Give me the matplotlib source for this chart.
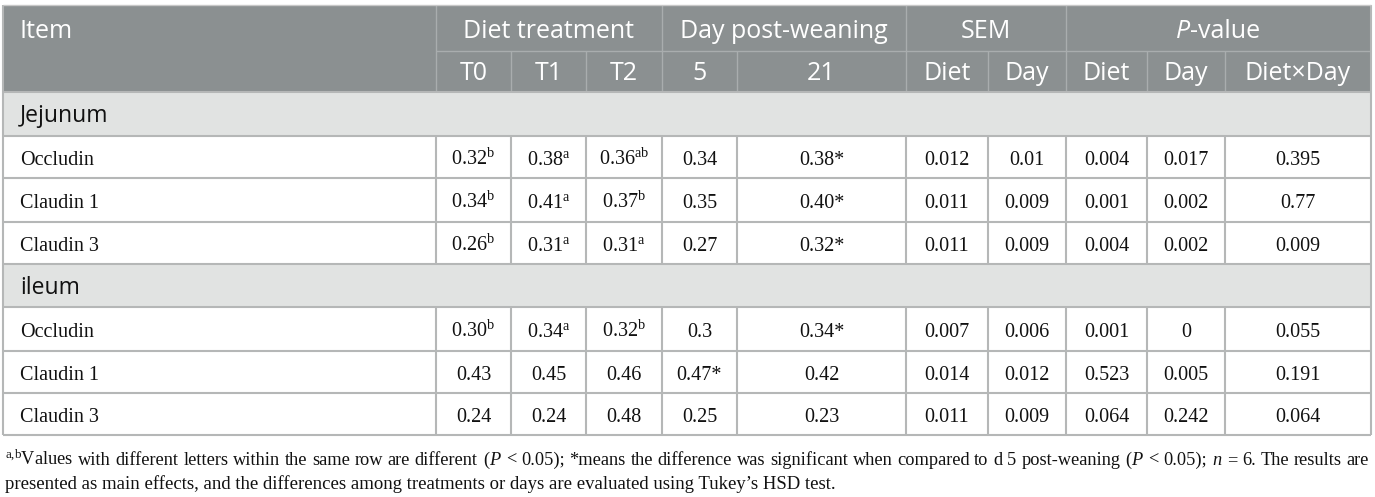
import matplotlib
matplotlib.use('Agg')
import matplotlib.pyplot as plt
from matplotlib.patches import Rectangle

plt.rcParams['mathtext.fontset'] = 'custom'
plt.rcParams['mathtext.rm'] = 'Liberation Serif'
plt.rcParams['mathtext.it'] = 'Liberation Serif:italic'
plt.rcParams['mathtext.bf'] = 'Liberation Serif:bold'

# ---- table content ----
group_headers = ['Diet treatment', 'Day post-weaning', 'SEM']
sub_headers = ['T0', 'T1', 'T2', '5', '21', 'Diet', 'Day', 'Diet', 'Day', 'Diet\u00d7Day']
sections = ['Jejunum', 'ileum']
items = ['Occludin', 'Claudin 1', 'Claudin 3']

jejunum_values = [
    ['0.32', '0.38', '0.36', '0.34', '0.38*', '0.012', '0.01', '0.004', '0.017', '0.395'],
    ['0.34', '0.41', '0.37', '0.35', '0.40*', '0.011', '0.009', '0.001', '0.002', '0.77'],
    ['0.26', '0.31', '0.31', '0.27', '0.32*', '0.011', '0.009', '0.004', '0.002', '0.009'],
]
jejunum_letters = [
    ['b', 'a', 'ab'],
    ['b', 'a', 'b'],
    ['b', 'a', 'a'],
]
ileum_values = [
    ['0.30', '0.34', '0.32', '0.3', '0.34*', '0.007', '0.006', '0.001', '0', '0.055'],
    ['0.43', '0.45', '0.46', '0.47*', '0.42', '0.014', '0.012', '0.523', '0.005', '0.191'],
    ['0.24', '0.24', '0.48', '0.25', '0.23', '0.011', '0.009', '0.064', '0.242', '0.064'],
]
ileum_letters = [
    ['b', 'a', 'b'],
    ['', '', ''],
    ['', '', ''],
]

footnote_1 = (r'$^{\mathrm{a{,}b}}$Values with different letters within the same row are different '
              r'($\mathit{P}$ < 0.05); *means the difference was significant when compared to d 5 '
              r'post-weaning ($\mathit{P}$ < 0.05); $\mathit{n}$ = 6. The results are')
footnote_2 = ("presented as main effects, and the differences among treatments or days are "
              "evaluated using Tukey\u2019s HSD test.")

# ---- layout (pixels) ----
W, H = 1375, 497
col_edges = [3, 436, 511, 586, 662, 737, 906, 988, 1066, 1147, 1225, 1371]
group_spans = [(1, 4), (4, 6), (6, 8), (8, 11)]
head_top, head_mid, head_bot = 5, 51, 92
row_edges = [92, 136, 178, 222, 264, 307, 351, 393, 435]

header_bg = '#8b9091'
header_line = '#a9adae'
band_bg = '#e1e3e2'
grid = '#b5b7b7'
ink = '#111111'

sans = 'Open Sans'
serif = 'Liberation Serif'

fig = plt.figure(figsize=(W / 100, H / 100), dpi=100)
ax = fig.add_axes([0, 0, 1, 1])
ax.set_xlim(0, W)
ax.set_ylim(H, 0)
ax.axis('off')
renderer = fig.canvas.get_renderer()

left, right = col_edges[0], col_edges[-1]

# header block
ax.add_patch(Rectangle((left, head_top), right - left, head_bot - head_top,
                       facecolor=header_bg, edgecolor='none'))
ax.hlines(head_mid, col_edges[1], right, color=header_line, lw=1)
for i, x in enumerate(col_edges[1:-1], start=1):
    top = head_top if i in (1, 4, 6, 8) else head_mid
    ax.vlines(x, top, head_bot, color=header_line, lw=1)

ax.text(20, 38, 'Item', fontsize=18, family=sans, color='white', va='baseline')
for (a, b), label in zip(group_spans[:3], group_headers):
    ax.text((col_edges[a] + col_edges[b]) / 2, 38, label, fontsize=18, family=sans,
            color='white', va='baseline', ha='center')

# "P-value" with italic P
a, b = group_spans[3]
cx = (col_edges[a] + col_edges[b]) / 2
t1 = ax.text(0, 38, 'P', fontsize=18, family=sans, style='italic', color='white', va='baseline')
t2 = ax.text(0, 38, '-value', fontsize=18, family=sans, color='white', va='baseline')
w1 = t1.get_window_extent(renderer).width
w2 = t2.get_window_extent(renderer).width
t1.set_x(cx - (w1 + w2) / 2)
t2.set_x(cx - (w1 + w2) / 2 + w1)

for i, label in enumerate(sub_headers):
    ax.text((col_edges[i + 1] + col_edges[i + 2]) / 2, 80, label, fontsize=18, family=sans,
            color='white', va='baseline', ha='center')


# body
def cell_text(val, letter):
    if letter:
        return val + r'$^{\mathrm{' + letter + '}}$'
    return val


blocks = [(jejunum_values, jejunum_letters), (ileum_values, ileum_letters)]
for s, (name, (values, letters)) in enumerate(zip(sections, blocks)):
    band_top = row_edges[s * 4]
    band_bot = row_edges[s * 4 + 1]
    ax.add_patch(Rectangle((left, band_top), right - left, band_bot - band_top,
                           facecolor=band_bg, edgecolor='none'))
    ax.text(20, (band_top + band_bot) / 2 + 8, name, fontsize=16.5, family=sans,
            color=ink, va='baseline')
    for r in range(3):
        y0 = row_edges[s * 4 + 1 + r]
        y1 = row_edges[s * 4 + 2 + r]
        yb = (y0 + y1) / 2 + 8
        ax.text(20, yb, items[r], fontsize=14.5, family=serif, color=ink, va='baseline')
        for c, val in enumerate(values[r]):
            letter = letters[r][c] if c < 3 else ''
            ax.text((col_edges[c + 1] + col_edges[c + 2]) / 2, yb, cell_text(val, letter),
                    fontsize=14.5, family=serif, color=ink, va='baseline', ha='center')
        ax.vlines(col_edges[1:-1], y0, y1, color=grid, lw=1.5)

ax.hlines(row_edges, left, right, color=grid, lw=1.5)
ax.vlines([left, right], head_top, row_edges[-1], color=grid, lw=1.5)
ax.hlines(head_top, left, right, color='#c8c8c8', lw=1)


# footnote: first line justified to the table width
def justified_line(text, x0, x1, y, **kw):
    words = text.split(' ')
    texts = [ax.text(0, y, w, va='baseline', **kw) for w in words]
    widths = [t.get_window_extent(renderer).width for t in texts]
    gap = (x1 - x0 - sum(widths)) / (len(words) - 1)
    x = x0
    for t, w in zip(texts, widths):
        t.set_x(x)
        x += w + gap


justified_line(footnote_1, 5, 1369, 465, fontsize=13.2, family=serif, color=ink)
ax.text(5, 489, footnote_2, fontsize=13.5, family=serif, color=ink, va='baseline')

fig.savefig('out.png', dpi=100)
